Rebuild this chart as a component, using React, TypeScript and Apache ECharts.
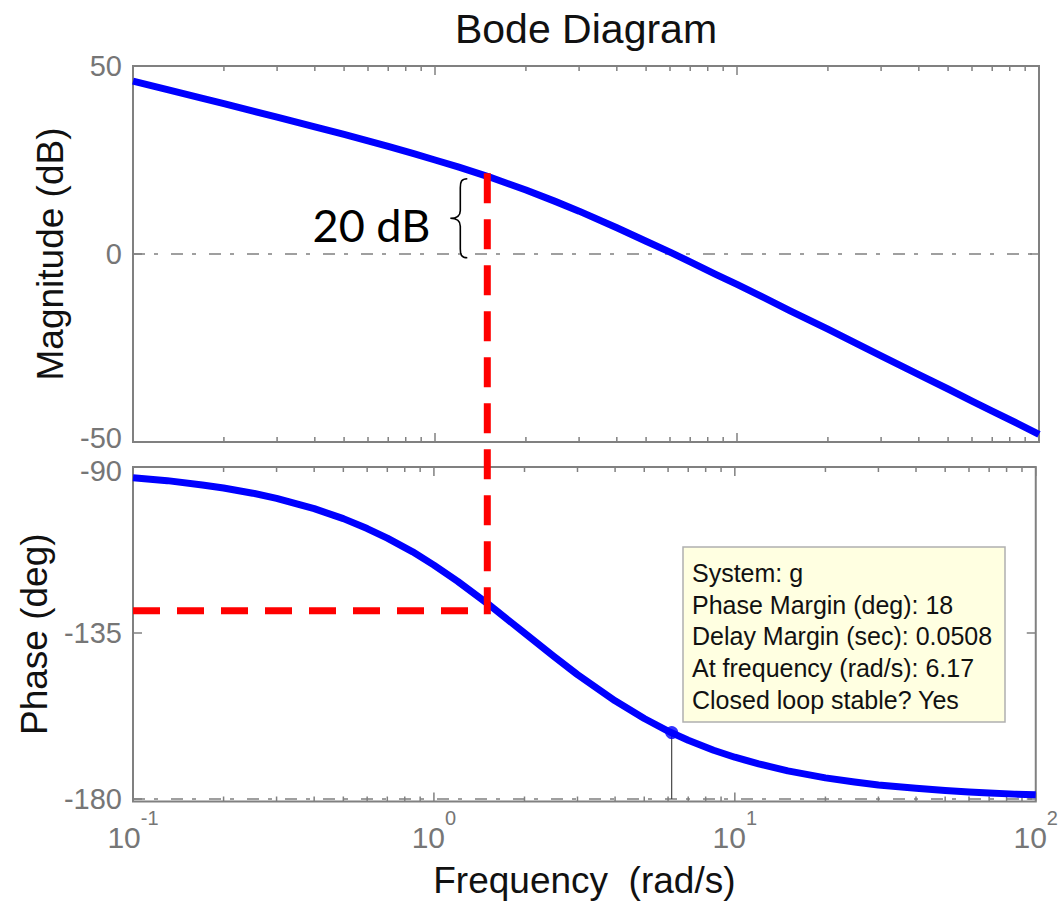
import React, { useEffect, useRef } from "react";
import * as echarts from "echarts";

// ---- data ----
const freq = [0.1, 0.13, 0.17, 0.2, 0.25, 0.3, 0.4, 0.5, 0.6, 0.7, 0.85, 1, 1.2, 1.5, 2, 2.5, 3, 4, 5, 6, 7, 8.5, 10, 12, 15, 20, 25, 30, 40, 50, 60, 70, 85, 100];
const magnitudeDb = [46.0, 43.7, 41.4, 40.0, 38.0, 36.4, 33.8, 31.8, 30.1, 28.6, 26.7, 25.0, 23.1, 20.6, 17.0, 14.0, 11.4, 7.0, 3.4, 0.5, -2.1, -5.4, -8.1, -11.2, -15.1, -20.0, -23.9, -27.1, -32.1, -35.9, -39.1, -41.8, -45.1, -48.0];
const phaseDeg = [-92.9, -93.7, -94.9, -95.7, -97.1, -98.5, -101.3, -104.0, -106.7, -109.3, -113.0, -116.6, -121.0, -126.9, -135.0, -141.3, -146.3, -153.4, -158.2, -161.6, -164.1, -166.8, -168.7, -170.5, -172.4, -174.3, -175.4, -176.2, -177.1, -177.7, -178.1, -178.4, -178.7, -178.9];

const magTicks = [-50, 0, 50];
const phaseTicks = [-180, -135, -90];
const majorFreqTicks = [0.1, 1, 10, 100];
const minorFreqTicks = [0.2, 0.3, 0.4, 0.5, 0.6, 0.7, 0.8, 0.9, 2, 3, 4, 5, 6, 7, 8, 9, 20, 30, 40, 50, 60, 70, 80, 90];

const magRange = [-50, 50];
const phaseRange = [-180.7, -90];
const freqRange = [0.1, 100];

// phase margin marker
const pmFreq = 6.17;
const pmPhase = -162;
const pmBase = -180;

// red annotation
const markFreq = 1.49;
const markMagTop = 21.5;
const markPhase = -129;
const braceDb = [-1, 20];
const braceLabel = "20 dB";

const infoLines = [
  "System: g",
  "Phase Margin (deg): 18",
  "Delay Margin (sec): 0.0508",
  "At frequency (rad/s): 6.17",
  "Closed loop stable? Yes",
];

const FONT = "'Liberation Sans', Arial, Helvetica, sans-serif";
const AX = "#808080";
const LBL = "#767676";

const braceD = "M17,0 C11,0 10,3 10,9 L10,32 C10,37 7,40 0,40 C7,40 10,43 10,48 L10,71 C10,77 11,80 17,80";
echarts.graphic.registerShape("brace", echarts.graphic.extendPath(braceD, {}));

function tickData(yB: number, yT: number) {
  return [
    ...majorFreqTicks.map((f) => [f, yB, yT, 9]),
    ...minorFreqTicks.map((f) => [f, yB, yT, 5]),
  ];
}

const tickRender = (params: any, api: any) => {
  const x = api.value(0);
  const b = api.coord([x, api.value(1)]);
  const t = api.coord([x, api.value(2)]);
  const len = api.value(3);
  return {
    type: "group",
    children: [
      { type: "line", shape: { x1: b[0], y1: b[1], x2: b[0], y2: b[1] - len }, style: { stroke: AX, lineWidth: 1.5 } },
      { type: "line", shape: { x1: t[0], y1: t[1], x2: t[0], y2: t[1] + len }, style: { stroke: AX, lineWidth: 1.5 } },
    ],
  };
};

const dashDot = [12, 9, 4, 13];

const yRichBase = { fontSize: 29, color: LBL, fontFamily: FONT, lineHeight: 22 };
const yRich = {
  n: { ...yRichBase },
  lo: { ...yRichBase, padding: [0, 0, 8, 0] },
  hi: { ...yRichBase, padding: [8, 0, 0, 0] },
};

export default function App() {
  const ref = useRef<HTMLDivElement>(null);
  useEffect(() => {
    if (!ref.current) return;
    const chart = echarts.init(ref.current, null, { renderer: "svg" });
    const yTickStyle = { show: true, inside: true, length: 9, lineStyle: { color: AX, width: 1.5 } };
    const yLabelStyle = { color: LBL, fontSize: 29, fontFamily: FONT, margin: 11, lineHeight: 22, rich: yRich };
    const nameStyle = { color: "#111", fontSize: 37, fontFamily: FONT };
    const option: any = {
      animation: false,
      backgroundColor: "#ffffff",
      title: {
        text: "Bode Diagram",
        left: 581,
        top: 3,
        textAlign: "center",
        textStyle: { fontFamily: FONT, fontSize: 41, fontWeight: "normal", color: "#111" },
      },
      grid: [
        { left: 133, top: 66, width: 906, height: 376, show: true, borderColor: AX, borderWidth: 2, backgroundColor: "transparent" },
        { left: 133, top: 467, width: 906, height: 334.5, show: true, borderColor: AX, borderWidth: 2, backgroundColor: "transparent" },
      ],
      xAxis: [
        {
          type: "log", logBase: 10, gridIndex: 0, min: freqRange[0], max: freqRange[1],
          axisLine: { show: false }, axisTick: { show: false }, axisLabel: { show: false }, splitLine: { show: false },
        },
        {
          type: "log", logBase: 10, gridIndex: 1, min: freqRange[0], max: freqRange[1],
          name: "Frequency  (rad/s)", nameLocation: "middle", nameGap: 60, nameTextStyle: nameStyle,
          axisLine: { show: false }, axisTick: { show: false }, splitLine: { show: false },
          axisLabel: {
            margin: 6,
            formatter: (v: number) => {
              const e = Math.round(Math.log10(v));
              return "{b|10}{s|" + (e < 0 ? "-" + -e : String(e)) + "}";
            },
            rich: {
              b: { fontSize: 30, color: LBL, fontFamily: FONT, verticalAlign: "bottom", lineHeight: 45 },
              s: { fontSize: 20, color: LBL, fontFamily: FONT, verticalAlign: "top", lineHeight: 30 },
            },
          },
        },
      ],
      yAxis: [
        {
          type: "value", gridIndex: 0, min: magRange[0], max: magRange[1], interval: 50,
          name: "Magnitude (dB)", nameLocation: "middle", nameGap: 62, nameTextStyle: nameStyle,
          axisLine: { show: false }, axisTick: { ...yTickStyle, customValues: magTicks },
          axisLabel: {
            ...yLabelStyle, customValues: magTicks,
            formatter: (v: number) => (v === magRange[0] ? "{lo|" + v + "}" : "{n|" + v + "}"),
          },
          splitLine: { show: false },
        },
        {
          type: "value", gridIndex: 1, min: phaseRange[0], max: phaseRange[1],
          name: "Phase (deg)", nameLocation: "middle", nameGap: 62, nameTextStyle: nameStyle,
          axisLine: { show: false }, axisTick: { ...yTickStyle, customValues: phaseTicks },
          axisLabel: {
            ...yLabelStyle, customValues: phaseTicks,
            formatter: (v: number) => (v === phaseRange[1] ? "{hi|" + v + "}" : "{n|" + v + "}"),
          },
          splitLine: { show: false },
        },
        {
          type: "value", gridIndex: 0, position: "right", min: magRange[0], max: magRange[1], interval: 50,
          axisLine: { show: false }, axisTick: { ...yTickStyle, customValues: magTicks }, axisLabel: { show: false }, splitLine: { show: false },
        },
        {
          type: "value", gridIndex: 1, position: "right", min: phaseRange[0], max: phaseRange[1],
          axisLine: { show: false }, axisTick: { ...yTickStyle, customValues: phaseTicks }, axisLabel: { show: false }, splitLine: { show: false },
        },
      ],
      series: [
        {
          type: "line", xAxisIndex: 0, yAxisIndex: 0, z: 1, symbol: "none", silent: true,
          data: [[freqRange[0], 0], [freqRange[1], 0]],
          lineStyle: { color: AX, width: 1.5, type: dashDot },
        },
        {
          type: "line", xAxisIndex: 1, yAxisIndex: 1, z: 1, symbol: "none", silent: true,
          data: [[freqRange[0], -180], [freqRange[1], -180]],
          lineStyle: { color: AX, width: 1.5, type: dashDot },
        },
        {
          type: "custom", xAxisIndex: 0, yAxisIndex: 0, z: 1, silent: true, clip: false,
          encode: { x: 0, y: 1 }, renderItem: tickRender, data: tickData(magRange[0], magRange[1]),
        },
        {
          type: "custom", xAxisIndex: 1, yAxisIndex: 1, z: 1, silent: true, clip: false,
          encode: { x: 0, y: 1 }, renderItem: tickRender, data: tickData(phaseRange[0], phaseRange[1]),
        },
        {
          name: "Magnitude", type: "line", xAxisIndex: 0, yAxisIndex: 0, z: 3, symbol: "none",
          smooth: false,
          data: freq.map((f, i) => [f, magnitudeDb[i]]),
          lineStyle: { color: "#0000ff", width: 7, join: "round" },
        },
        {
          name: "Phase", type: "line", xAxisIndex: 1, yAxisIndex: 1, z: 3, symbol: "none",
          smooth: false,
          data: freq.map((f, i) => [f, phaseDeg[i]]),
          lineStyle: { color: "#0000ff", width: 7, join: "round" },
        },
        {
          type: "line", xAxisIndex: 1, yAxisIndex: 1, z: 2, symbol: "none", silent: true,
          data: [[pmFreq, pmPhase], [pmFreq, pmBase]],
          lineStyle: { color: "#222", width: 1 },
        },
        {
          type: "scatter", xAxisIndex: 1, yAxisIndex: 1, z: 4, silent: true,
          symbol: "circle", symbolSize: 13,
          data: [[pmFreq, pmPhase]],
          itemStyle: { color: "#0000ff" },
        },
      ],
    };
    chart.setOption(option);

    const p0 = (pt: number[]) => chart.convertToPixel({ gridIndex: 0 }, pt) as number[];
    const p1 = (pt: number[]) => chart.convertToPixel({ gridIndex: 1 }, pt) as number[];
    const top = p0([markFreq, markMagTop]);
    const bot = p1([markFreq, markPhase]);
    const left = p1([freqRange[0], markPhase]);
    const bTop = p0([markFreq, braceDb[1]]);
    const bBot = p0([markFreq, braceDb[0]]);
    const braceH = bBot[1] - bTop[1];
    const rx = top[0];

    const boxX = 683, boxY = 547, boxW = 322, boxH = 175;
    const graphic: any[] = [
      {
        type: "line", z: 100, silent: true,
        shape: { x1: rx, y1: top[1], x2: rx, y2: bot[1] + 3.5 },
        style: { stroke: "#ff0000", lineWidth: 7, lineDash: [30, 16] },
      },
      {
        type: "line", z: 100, silent: true,
        shape: { x1: left[0], y1: bot[1], x2: rx - 3.5, y2: bot[1] },
        style: { stroke: "#ff0000", lineWidth: 7, lineDash: [27, 17] },
      },
      {
        type: "brace", z: 100, silent: true,
        x: rx - 37, y: bTop[1], scaleX: 1, scaleY: braceH / 80,
        style: { fill: "none", stroke: "#000", lineWidth: 1.6, strokeNoScale: true },
      },
      {
        type: "text", z: 100, silent: true,
        x: rx - 57, y: (bTop[1] + bBot[1]) / 2 + 7,
        style: { text: braceLabel, fontFamily: "Lato, 'Open Sans', sans-serif", fontSize: 45, fill: "#000", align: "right", verticalAlign: "middle" },
      },
      {
        type: "rect", z: 100, silent: true,
        shape: { x: boxX, y: boxY, width: boxW, height: boxH },
        style: { fill: "#ffffe1", stroke: "#b0b0b0", lineWidth: 1.5 },
      },
      ...infoLines.map((t, i) => ({
        type: "text", z: 101, silent: true,
        x: boxX + 9, y: boxY + 26 + i * 31.7,
        style: { text: t, fontFamily: FONT, fontSize: 25, fill: "#111", align: "left", verticalAlign: "middle" },
      })),
    ];
    chart.setOption({ graphic });

    return () => chart.dispose();
  }, []);
  return <div ref={ref} style={{ position: "absolute", left: 0, top: 0, width: 1061, height: 906 }} />;
}
